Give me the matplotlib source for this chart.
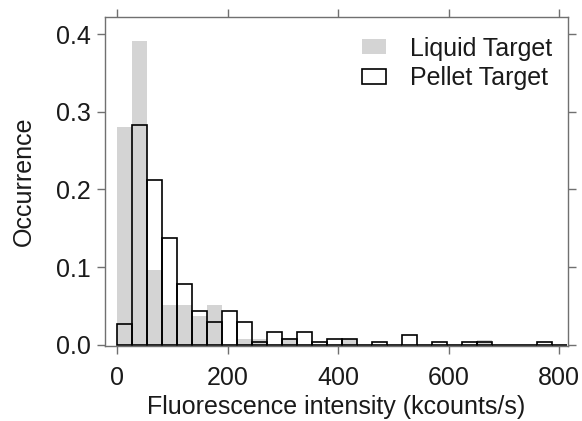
import numpy as np
import matplotlib
matplotlib.use("Agg")
import matplotlib.pyplot as plt

plt.rcParams['font.family'] = ['Liberation Sans', 'DejaVu Sans']

# histogram data (occurrence per bin), bins start at 0
bin_width = 27.15
liquid = [0.281, 0.391, 0.096, 0.051, 0.051, 0.037, 0.051, 0.0, 0.007, 0.007,
          0.0, 0.009, 0.0, 0.0, 0.0, 0.008, 0.0, 0.0, 0.0, 0.0,
          0.0, 0.0, 0.0, 0.0, 0.0064, 0.0, 0.0, 0.0, 0.0, 0.0]
pellet = [0.027, 0.283, 0.212, 0.137, 0.078, 0.044, 0.030, 0.043, 0.030, 0.0035,
          0.017, 0.008, 0.017, 0.0043, 0.008, 0.008, 0.0, 0.0035, 0.0, 0.013,
          0.0, 0.0035, 0.0, 0.0035, 0.0035, 0.0, 0.0, 0.0, 0.0035, 0.0]
left_edges = np.arange(len(liquid)) * bin_width

fig = plt.figure(figsize=(5.82, 4.21), dpi=100)
ax = fig.add_axes([0.1804, 0.178, 0.7956, 0.7816])

ax.bar(left_edges, liquid, width=bin_width, align='edge', color='#d4d4d4',
       linewidth=0, label='Liquid Target')
ax.bar(left_edges, pellet, width=bin_width, align='edge', facecolor='none',
       edgecolor='black', linewidth=1.2, label='Pellet Target')

ax.set_xlim(-22, 816)
ax.set_ylim(-0.0015, 0.422)
ax.set_xticks([0, 200, 400, 600, 800])
ax.set_yticks([0.0, 0.1, 0.2, 0.3, 0.4])
ax.set_yticklabels(['0.0', '0.1', '0.2', '0.3', '0.4'])

for s in ax.spines.values():
    s.set_color('#707070')
    s.set_linewidth(1.0)
ax.tick_params(direction='out', length=6, width=1.0, color='#707070',
               top=True, right=True, labelsize=18, labelcolor='#1a1a1a')
ax.tick_params(axis='x', pad=8)
ax.tick_params(axis='y', pad=4)

ax.set_xlabel('Fluorescence intensity (kcounts/s)', fontsize=18, labelpad=4,
              color='#1a1a1a')
ax.set_ylabel('Occurrence', fontsize=18, labelpad=15, color='#1a1a1a')

ax.legend(loc='upper right', bbox_to_anchor=(1.0, 0.99), frameon=False,
          fontsize=18, handlelength=0.95, handleheight=0.55, handletextpad=0.95,
          labelspacing=0.22, borderaxespad=0.25, labelcolor='#1a1a1a')

fig.savefig('out.png', dpi=100)
